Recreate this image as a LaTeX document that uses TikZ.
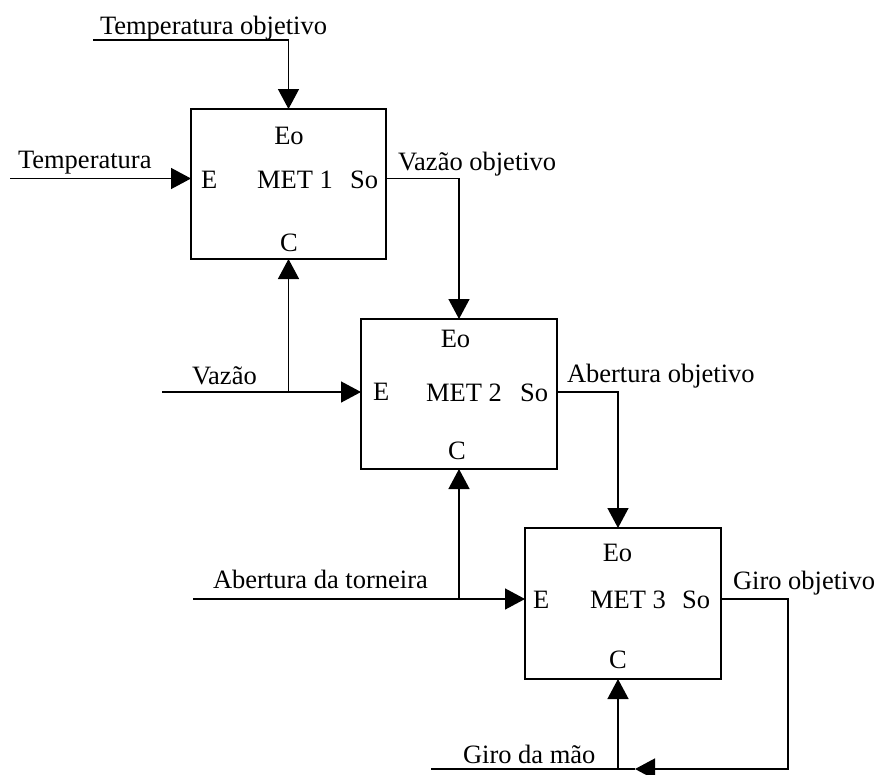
\documentclass[tikz,border=0pt]{standalone}
\usepackage{fontspec}
\setmainfont{Liberation Serif}
\usetikzlibrary{arrows.meta,calc}

\begin{document}
\begin{tikzpicture}[
    x=1pt, y=-1pt,
    every node/.style={inner sep=0pt, outer sep=0pt,
      font=\fontsize{26.5}{30}\selectfont},
    metbox/.style={draw, line width=1.4pt, minimum width=195pt, minimum height=150pt},
    wire/.style={line width=1.4pt},
    arr/.style={wire, -{Triangle[length=20pt,width=21pt]}},
    lbl/.style={anchor=base west},
    inl/.style={anchor=base west},
    inr/.style={anchor=base east},
    inc/.style={anchor=base}
  ]
  \useasboundingbox (0,0) rectangle (878,774);

  % --- the three MET blocks ---
  \node[metbox] (m1) at (288.5,184) {};
  \node[metbox, minimum width=196pt] (m2) at (459,394) {};
  \node[metbox, minimum width=196pt, minimum height=151pt] (m3) at (623,603.5) {};

  % --- port labels inside the blocks ---
  \node[inc] (eo1) at (289,144) {Eo};
  \node[inl] (e1)  at (201,188) {E};
  \node[inc] (n1)  at (295,188) {MET 1};
  \node[inr] (so1) at (378,188) {So};
  \node[inc] (c1)  at (289,251) {C};

  \node[inc] (eo2) at (455.5,347) {Eo};
  \node[inl] (e2)  at (373,400) {E};
  \node[inc] (n2)  at (464,401) {MET 2};
  \node[inr] (so2) at (548,401) {So};
  \node[inc] (c2)  at (457,459) {C};

  \node[inc] (eo3) at (617.5,561) {Eo};
  \node[inl] (e3)  at (533,608) {E};
  \node[inc] (n3)  at (628,608) {MET 3};
  \node[inr] (so3) at (710,608) {So};
  \node[inc] (c3)  at (618,668) {C};

  % --- signal names ---
  \node[lbl] (lto) at (100,34)  {Temperatura objetivo};
  \node[lbl] (lt)  at (18,168)  {Temperatura};
  \node[lbl] (lvo) at (398,170) {Vazão objetivo};
  \node[lbl] (lv)  at (192,384) {Vazão};
  \node[lbl] (lao) at (567,382) {Abertura objetivo};
  \node[lbl] (la)  at (213,588) {Abertura da torneira};
  \node[lbl] (lgo) at (733,589) {Giro objetivo};
  \node[lbl] (lg)  at (463,763) {Giro da mão};

  % --- free ends of the signal lines ---
  \coordinate (to0) at (93,40);
  \coordinate (t0)  at (10,178.5);
  \coordinate (v0)  at (162,392);
  \coordinate (a0)  at (193,599);
  \coordinate (g0)  at (431,769);
  \coordinate (gturn) at (788,769);
  \coordinate (gtip)  at (635,769);
  \coordinate (m3top) at ($(m3.north)+(-5,0)$);
  \coordinate (m3bot) at ($(m3.south)+(-5,0)$);

  % --- MET 1 ---
  \draw[arr] (to0) -| (m1.north);
  \draw[arr] (t0) -- (t0 -| m1.west);
  \draw[arr] (m1.east |- t0) -| (m2.north);

  % --- MET 2 ---
  \draw[arr] (v0) -- (v0 -| m2.west);
  \draw[arr] (v0 -| m1.south) -- (m1.south);
  \draw[arr] (m2.east |- v0) -| (m3top);

  % --- MET 3 ---
  \draw[arr] (a0) -- (a0 -| m3.west);
  \draw[arr] (a0 -| m2.south) -- (m2.south);
  \draw[wire] (g0) -- (gtip);
  \draw[arr] (g0 -| m3bot) -- (m3bot);
  \draw[arr] (m3.east |- a0) -| (gturn) -- (gtip);
\end{tikzpicture}
\end{document}
